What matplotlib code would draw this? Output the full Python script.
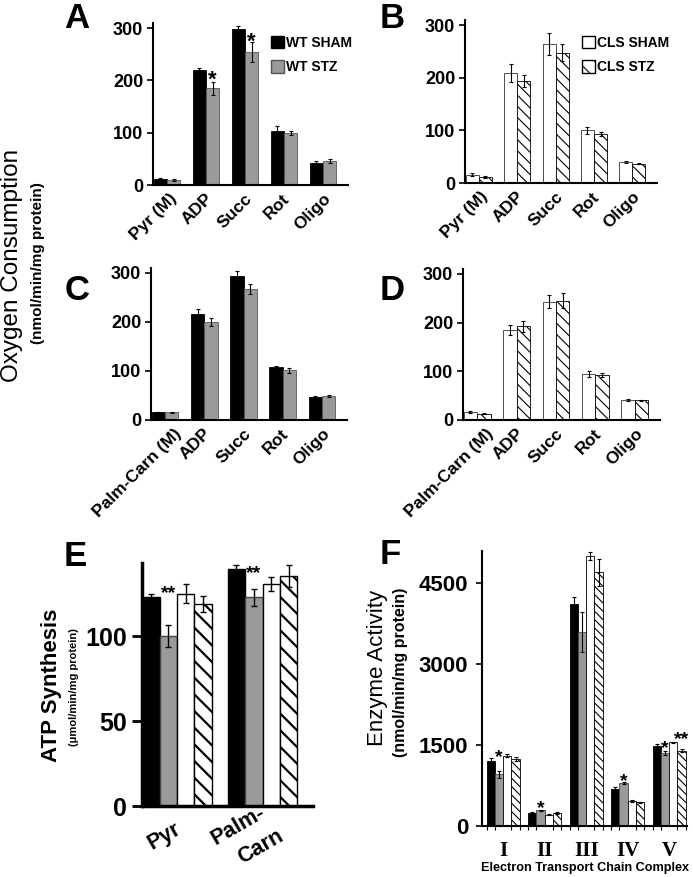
import numpy as np
import matplotlib
matplotlib.use('Agg')
import matplotlib.pyplot as plt
from matplotlib.patches import Patch
from matplotlib.transforms import ScaledTranslation

plt.rcParams['font.family'] = ['Liberation Sans', 'DejaVu Sans']
plt.rcParams['font.weight'] = 'bold'
plt.rcParams['hatch.linewidth'] = 0.8

# ---- data ----
cats_ab = ['Pyr (M)', 'ADP', 'Succ', 'Rot', 'Oligo']
cats_cd = ['Palm-Carn (M)', 'ADP', 'Succ', 'Rot', 'Oligo']

a_sham = [11.5, 220, 298, 104, 43]
a_sham_err = [2, 4, 6, 8, 3]
a_stz = [10, 185, 255, 99, 46]
a_stz_err = [2, 13, 19, 4, 3]

b_sham = [16, 210, 265, 100, 40]
b_sham_err = [3, 17, 21, 7, 2]
b_stz = [11, 194, 248, 93.5, 37]
b_stz_err = [2, 12, 16, 4, 1.5]

c_sham = [15.5, 217, 293, 108, 47]
c_sham_err = [1, 10, 10, 3, 1.5]
c_stz = [16, 200, 267, 101, 49]
c_stz_err = [1, 8, 11, 5, 2]

d_sham = [16, 185, 243, 94.5, 41]
d_sham_err = [2, 10, 13, 6, 2]
d_stz = [12.5, 192, 245, 92, 41]
d_stz_err = [1, 12, 16, 4, 1]

# E: ATP synthesis, groups x [WT SHAM, WT STZ, CLS SHAM, CLS STZ]
e_cats = ['Pyr', 'Palm-\nCarn']
e_vals = [[123, 100, 125, 119], [139.4, 122.7, 130.6, 135.5]]
e_errs = [[2, 6.6, 5.5, 4.6], [2.5, 5, 4, 6.4]]

# F: ETC enzyme activity
f_cats = ['I', 'II', 'III', 'IV', 'V']
f_vals = [[1204, 957, 1302, 1241],
          [241, 290, 210, 241],
          [4124, 3600, 5000, 4709],
          [679, 790, 463, 438],
          [1488, 1352, 1549, 1395]]
f_errs = [[50, 70, 25, 40],
          [15, 15, 10, 10],
          [130, 370, 75, 250],
          [40, 20, 20, 15],
          [30, 35, 15, 25]]

W, H = 693, 877
fig = plt.figure(figsize=(W / 100, H / 100), dpi=100)
renderer = fig.canvas.get_renderer()


def add_ax(l, t, r, b):
    return fig.add_axes([l / W, 1 - b / H, (r - l) / W, (b - t) / H])


def px_off(dx, dy):
    # offset in pixels (dpi 100) -> inches
    return ScaledTranslation(dx / 100, dy / 100, fig.dpi_scale_trans)


GRAY = '#9a9a9a'
ekw = dict(elinewidth=0.8, capsize=1.5, capthick=0.8, ecolor='black')


def style(ax, lw=1.5):
    for s in ['top', 'right']:
        ax.spines[s].set_visible(False)
    for s in ['left', 'bottom']:
        ax.spines[s].set_linewidth(lw)
    ax.tick_params(axis='x', length=0)


def small_panel(ax, cats, s1, e1, s2, e2, wt, ymax):
    x = np.arange(len(cats))
    w = 0.34
    if wt:
        ax.bar(x - w / 2, s1, w, yerr=e1, color='black', edgecolor='black', lw=0.6, error_kw=ekw)
        ax.bar(x + w / 2, s2, w, yerr=e2, color=GRAY, edgecolor='#555555', lw=0.6, error_kw=ekw)
    else:
        ax.bar(x - w / 2, s1, w, yerr=e1, color='white', edgecolor='#333333', lw=0.6, error_kw=ekw)
        ax.bar(x + w / 2, s2, w, yerr=e2, color='white', edgecolor='black', lw=0.6,
               hatch='\\\\\\', error_kw=ekw)
    ax.set_xlim(-0.36, 4.64)
    ax.set_ylim(0, ymax)
    ax.set_yticks([0, 100, 200, 300])
    ax.tick_params(axis='y', length=4, width=1.2, labelsize=13, pad=3)
    ax.set_xticks([])
    style(ax)
    # rotated category labels, longer labels pushed a bit further right
    base = ax.get_xaxis_transform()
    for xi, lab in zip(x, cats):
        t = ax.text(xi, 0, lab, rotation=45, ha='right', va='center',
                    rotation_mode='anchor', fontsize=12.5, transform=base + px_off(0, -11))
        bw = t.get_window_extent(renderer).width
        t.set_transform(base + px_off(-2 + 0.17 * bw, -11))


def star(ax, x, y, s='*', size=16):
    ax.annotate(s, (x, y), xytext=(0, -0.58 * size), textcoords='offset points',
                ha='center', va='baseline', fontsize=size, annotation_clip=False)


leg_kw = dict(loc='upper left', frameon=False, bbox_transform=fig.transFigure,
              fontsize=10, handlelength=0.9, handleheight=1.0, handletextpad=0.2,
              labelspacing=0.75, borderpad=0, borderaxespad=0)

# Panel A
axA = add_ax(153, 23, 348, 185)
small_panel(axA, cats_ab, a_sham, a_sham_err, a_stz, a_stz_err, True, 310)
star(axA, 1 + 0.17, 215)
star(axA, 2 + 0.17, 287)
axA.legend(handles=[Patch(facecolor='black', edgecolor='black'),
                    Patch(facecolor=GRAY, edgecolor='#555555')],
           labels=['WT SHAM', 'WT STZ'], bbox_to_anchor=(271 / W, 1 - 36 / H), **leg_kw)

# Panel B
axB = add_ax(465, 20, 657, 183)
small_panel(axB, cats_ab, b_sham, b_sham_err, b_stz, b_stz_err, False, 310)
axB.legend(handles=[Patch(facecolor='white', edgecolor='black'),
                    Patch(facecolor='white', edgecolor='black', hatch='\\\\')],
           labels=['CLS SHAM', 'CLS STZ'], bbox_to_anchor=(582 / W, 1 - 36 / H), **leg_kw)

# Panel C
axC = add_ax(151, 268, 347, 420)
small_panel(axC, cats_cd, c_sham, c_sham_err, c_stz, c_stz_err, True, 310)

# Panel D
axD = add_ax(463, 269, 660, 420)
small_panel(axD, cats_cd, d_sham, d_sham_err, d_stz, d_stz_err, False, 310)

# Panel E
axE = add_ax(142, 563, 313, 806)
xe = np.arange(len(e_cats))
we = 0.204
fills = ['black', GRAY, 'white', 'white']
edges = ['black', '#444444', 'black', 'black']
hatches = [None, None, None, '\\\\']
with plt.rc_context({'hatch.linewidth': 1.6}):
    for k in range(4):
        vals = [g[k] for g in e_vals]
        errs = [g[k] for g in e_errs]
        axE.bar(xe + (k - 1.5) * we, vals, we, yerr=errs, color=fills[k], edgecolor=edges[k],
                lw=1.0, hatch=hatches[k], error_kw=dict(elinewidth=1.0, capsize=2.5, capthick=1.0))
axE.set_xlim(-0.41, 1.59)
axE.set_ylim(0, 143)
axE.set_yticks([0, 50, 100])
axE.tick_params(axis='y', length=7, width=2, labelsize=18, pad=4)
axE.set_xticks([])
style(axE, 2.5)
# each line of a label drawn on its own, block centred below the group
for xi, lab in zip(xe, e_cats):
    lines = lab.split('\n')
    for j, line in enumerate(lines):
        k = j - (len(lines) - 1) / 2
        axE.text(xi, 0, line, rotation=30, ha='center', va='center', rotation_mode='anchor',
                 fontsize=15.5,
                 transform=axE.get_xaxis_transform() + px_off(-13 + 23 * k, -30 - 21 * k))
star(axE, 0 - 0.5 * we, 129, '**', 14)
star(axE, 1 - 0.5 * we, 141, '**', 14)

# Panel F
axF = add_ax(482, 551, 687, 826)
xf = np.arange(len(f_cats))
wf = 0.2
for k in range(4):
    vals = [g[k] for g in f_vals]
    errs = [g[k] for g in f_errs]
    axF.bar(xf + (k - 1.5) * wf, vals, wf, yerr=errs, color=fills[k], edgecolor=edges[k],
            lw=0.6, hatch='\\\\\\\\' if k == 3 else None, error_kw=ekw)
axF.set_xlim(-0.51, 4.43)
axF.set_ylim(0, 5100)
axF.set_yticks([0, 1500, 3000, 4500])
axF.tick_params(axis='y', length=4, width=1.2, labelsize=16, pad=6)
axF.set_xticks(xf)
axF.set_xticklabels(f_cats, fontsize=15, family=['Liberation Serif'], fontweight='bold')
axF.set_xticks(np.concatenate([xf + (k - 2) * wf for k in range(5)]), minor=True)
style(axF)
axF.tick_params(axis='x', which='major', length=0, pad=11)
axF.tick_params(axis='x', which='minor', length=3, width=0.8)
star(axF, 0 - 0.5 * wf, 1390, '*', 14)
star(axF, 1 - 0.5 * wf, 450, '*', 14)
star(axF, 3 - 0.5 * wf, 944, '*', 14)
star(axF, 4 - 0.5 * wf, 1560, '*', 14)
star(axF, 4 + 1.5 * wf, 1720, '**', 14)
fig.text(585 / W, 1 - 868 / H, 'Electron Transport Chain Complex', ha='center', va='center',
         fontsize=9.1)

# axis titles
fig.text(12 / W, 1 - 265 / H, 'Oxygen Consumption', rotation=90, ha='center', va='center',
         fontsize=17.5, fontweight='normal')
fig.text(38 / W, 1 - 263 / H, '(nmol/min/mg protein)', rotation=90, ha='center', va='center',
         fontsize=11)
fig.text(52 / W, 1 - 685 / H, 'ATP Synthesis', rotation=90, ha='center', va='center',
         fontsize=16)
fig.text(74 / W, 1 - 687 / H, '(μmol/min/mg protein)', rotation=90, ha='center', va='center',
         fontsize=8)
fig.text(377 / W, 1 - 668 / H, 'Enzyme Activity', rotation=90, ha='center', va='center',
         fontsize=16, fontweight='normal')
fig.text(401 / W, 1 - 672 / H, '(nmol/min/mg protein)', rotation=90, ha='center', va='center',
         fontsize=11.5)

# panel letters
for letter, px, py in [('A', 77, 19), ('B', 392, 18), ('C', 77, 290), ('D', 392, 290),
                       ('E', 75, 556), ('F', 390, 555)]:
    fig.text(px / W, 1 - py / H, letter, ha='center', va='center', fontsize=25)

fig.savefig('out.png', dpi=100)
